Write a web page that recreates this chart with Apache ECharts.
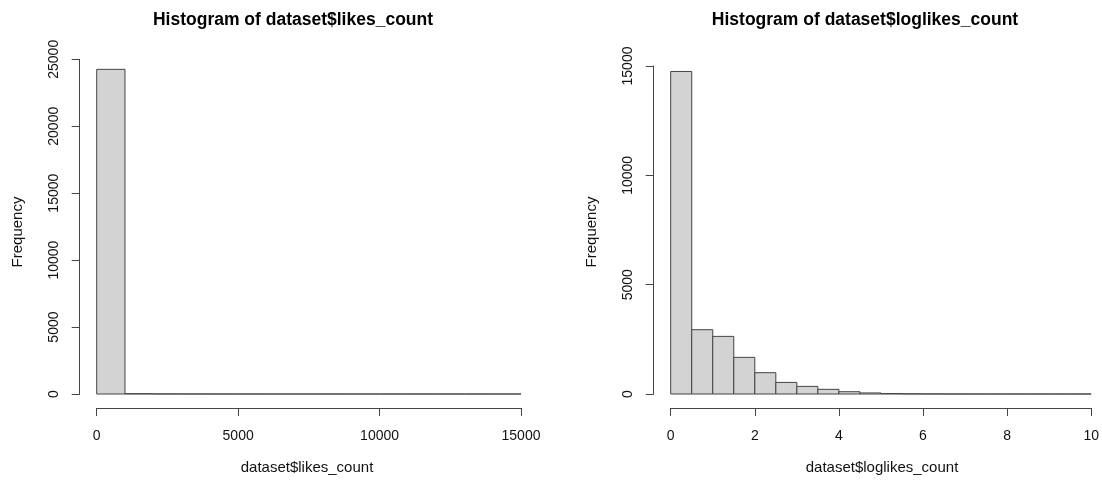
<!DOCTYPE html>
<html>
<head>
<meta charset="utf-8">
<script src="https://cdn.jsdelivr.net/npm/echarts@6/dist/echarts.min.js"></script>
<style>
html,body{margin:0;padding:0;background:#fff;}
#main{width:1102px;height:483px;}
</style>
</head>
<body>
<div id="main"></div>
<script>
// ---- data ----
const likesEdges = [0,1000,2000,3000,4000,5000,6000,7000,8000,9000,10000,11000,12000,13000,14000,15000];
const likesCounts = [24250,22,8,4,2,2,1,1,0,1,0,0,0,0,1];
const likesXTicks = [0,5000,10000,15000];
const likesYTicks = [0,5000,10000,15000,20000,25000];

const logEdges = [0,0.5,1,1.5,2,2.5,3,3.5,4,4.5,5,5.5,6,6.5,7,7.5,8,8.5,9,9.5,10];
const logCounts = [14750,2940,2635,1675,975,530,348,213,105,48,20,8,4,2,1,1,0,1,0,1];
const logXTicks = [0,2,4,6,8,10];
const logYTicks = [0,5000,10000,15000];

const titles = ['Histogram of dataset$likes_count','Histogram of dataset$loglikes_count'];
const xNames = ['dataset$likes_count','dataset$loglikes_count'];
const yName = 'Frequency';

function bins(edges, counts){
  return counts.map((c,i)=>[edges[i], edges[i+1], c]);
}

const FONT = '"Liberation Sans", Arial, sans-serif';
const AX = '#444';
const TXT = '#111';
const FS = 14;
const NFS = 15;

function renderRect(params, api){
  const x0 = api.value(0), x1 = api.value(1), c = api.value(2);
  const p0 = api.coord([x0, c]);
  const p1 = api.coord([x1, 0]);
  return {
    type:'rect',
    shape:{x:p0[0], y:p0[1], width:p1[0]-p0[0], height:p1[1]-p0[1]},
    style:{fill:'#d3d3d3', stroke:AX, lineWidth:1}
  };
}

function fmt(v){ return String(v); }

function xAxisCfg(idx, ticks){
  return {
    type:'value', gridIndex:idx, position:'bottom',
    min:ticks[0], max:ticks[ticks.length-1], interval:ticks[1]-ticks[0],
    offset:14,
    splitLine:{show:false},
    axisLine:{show:true, onZero:false, lineStyle:{color:AX, width:1}},
    axisTick:{show:true, length:8, lineStyle:{color:AX}},
    axisLabel:{show:true, margin:21, color:TXT, fontSize:FS, fontFamily:FONT, formatter:fmt, showMinLabel:true, showMaxLabel:true}
  };
}
function yAxisCfg(idx, ticks){
  return {
    type:'value', gridIndex:idx, position:'left',
    min:ticks[0], max:ticks[ticks.length-1], interval:ticks[1]-ticks[0],
    offset:17,
    splitLine:{show:false},
    axisLine:{show:true, onZero:false, lineStyle:{color:AX, width:1}},
    axisTick:{show:true, length:8, lineStyle:{color:AX}},
    axisLabel:{show:true, rotate:90, margin:19, color:TXT, fontSize:FS, fontFamily:FONT, formatter:fmt, showMinLabel:true, showMaxLabel:true}
  };
}

const chart = echarts.init(document.getElementById('main'), null, {renderer:'canvas'});
chart.setOption({
  animation:false,
  backgroundColor:'#fff',
  title:[
    {text:titles[0], left:288, top:6, textAlign:'center',
     textStyle:{fontSize:17.5, fontWeight:'bold', color:'#000', fontFamily:FONT}},
    {text:titles[1], left:860, top:6, textAlign:'center',
     textStyle:{fontSize:17.5, fontWeight:'bold', color:'#000', fontFamily:FONT}}
  ],
  grid:[
    {left:96.7, top:59.3, width:424.3, height:334.7},
    {left:670.7, top:66, width:423, height:328}
  ],
  xAxis:[xAxisCfg(0, likesXTicks), xAxisCfg(1, logXTicks)],
  yAxis:[yAxisCfg(0, likesYTicks), yAxisCfg(1, logYTicks)],
  series:[
    {type:'custom', xAxisIndex:0, yAxisIndex:0, data:bins(likesEdges, likesCounts),
     encode:{x:[0,1], y:2}, renderItem:renderRect, clip:false},
    {type:'custom', xAxisIndex:1, yAxisIndex:1, data:bins(logEdges, logCounts),
     encode:{x:[0,1], y:2}, renderItem:renderRect, clip:false}
  ],
  graphic:[
    {type:'text', x:307, y:468, style:{text:xNames[0], textAlign:'center', textVerticalAlign:'middle', fontSize:NFS, fontFamily:FONT, fill:TXT}},
    {type:'text', x:882, y:468, style:{text:xNames[1], textAlign:'center', textVerticalAlign:'middle', fontSize:NFS, fontFamily:FONT, fill:TXT}},
    {type:'text', x:18, y:232, rotation:Math.PI/2, style:{text:yName, textAlign:'center', textVerticalAlign:'middle', fontSize:NFS, fontFamily:FONT, fill:TXT}},
    {type:'text', x:592, y:232, rotation:Math.PI/2, style:{text:yName, textAlign:'center', textVerticalAlign:'middle', fontSize:NFS, fontFamily:FONT, fill:TXT}}
  ]
});
</script>
</body>
</html>
